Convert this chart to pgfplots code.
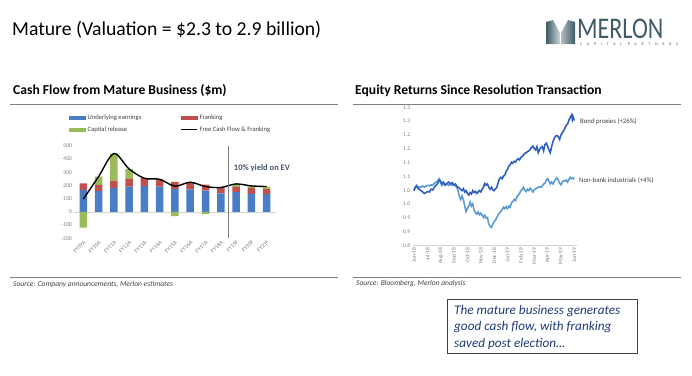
\documentclass[border=0pt]{standalone}
\usepackage{fontspec}
\setmainfont{Carlito}
\usepackage{pgfplots}
\pgfplotsset{compat=1.18}
\definecolor{cblue}{HTML}{4A7EC4}
\definecolor{cred}{HTML}{C0504D}
\definecolor{cgreen}{HTML}{9BBB59}
\definecolor{tickgray}{HTML}{7F7F7F}
\definecolor{txtgray}{HTML}{404040}
\definecolor{bondc}{HTML}{2F5FBF}
\definecolor{nbic}{HTML}{5B9BD5}
\definecolor{slate}{HTML}{44546A}
\definecolor{navy}{HTML}{1F3A7A}
\definecolor{logoc}{HTML}{3E5B66}
\begin{document}
\begin{tikzpicture}[x=1pt,y=1pt]
\path[use as bounding box] (0,0) rectangle (692,-375);
% title
\node[anchor=west, inner sep=0pt, font=\fontsize{19.7}{22}\selectfont] at (12,-30) {Mature (Valuation = \$2.3 to 2.9 billion)};
% logo
\shade[left color=logoc, right color=logoc!25] (546,-44) -- (546,-22) -- (553,-20) -- (560,-33) -- (560,-44) -- cycle;
\shade[left color=logoc!40, right color=logoc] (561,-44) -- (561,-33) -- (568,-20) -- (575,-22) -- (575,-44) -- cycle;
\node[anchor=base west, inner sep=0pt, text=logoc, font=\fontsize{30}{32}\selectfont, xscale=0.8, transform shape] at (577,-38) {MERLON};
\node[anchor=west, inner sep=0pt, text=logoc, font=\fontsize{4}{5}\selectfont\addfontfeatures{LetterSpace=120}] at (580,-44) {CAPITAL PARTNERS};
% headings
\node[anchor=west, inner sep=0pt, font=\bfseries\fontsize{13.6}{15}\selectfont] at (13,-90.5) {Cash Flow from Mature Business (\$m)};
\node[anchor=west, inner sep=0pt, font=\bfseries\fontsize{13.6}{15}\selectfont] at (355,-90.5) {Equity Returns Since Resolution Transaction};
\draw[gray, line width=0.9pt] (10,-104) -- (338,-104);
\draw[gray, line width=0.9pt] (353,-104) -- (681,-104);
\draw[gray, line width=0.9pt] (10,-277.5) -- (338,-277.5);
\draw[gray, line width=0.9pt] (353,-277.5) -- (681,-277.5);
\node[anchor=west, inner sep=0pt, font=\itshape\fontsize{7.5}{8}\selectfont, text=txtgray] at (13,-284) {Source: Company announcements, Merlon estimates};
\node[anchor=west, inner sep=0pt, font=\itshape\fontsize{7.5}{8}\selectfont, text=txtgray] at (356,-284) {Source: Bloomberg, Merlon analysis};
% callout box
\draw[black!75, line width=1pt] (447,-299) rectangle (637,-353);
\node[anchor=west, inner sep=0pt, font=\itshape\fontsize{13.2}{15}\selectfont, text=navy] at (454,-311) {The mature business generates};
\node[anchor=west, inner sep=0pt, font=\itshape\fontsize{13.2}{15}\selectfont, text=navy] at (454,-327.5) {good cash flow, with franking};
\node[anchor=west, inner sep=0pt, font=\itshape\fontsize{13.2}{15}\selectfont, text=navy] at (454,-344) {saved post election\ldots};

% ---------- left chart: stacked bars
\begin{axis}[at={(74.1pt,-238.3pt)}, anchor=south west, scale only axis,
  width=201.7pt, height=92.4pt,
  xmin=-0.6, xmax=12.6, ymin=-200, ymax=500,
  ybar stacked, bar width=7.5pt,
  xtick={0,...,12},
  xticklabels={FY09A,FY10A,FY11A,FY12A,FY13A,FY14A,FY15A,FY16A,FY17A,FY18A,FY19F,FY20F,FY21F},
  ytick={-200,-100,0,100,200,300,400,500},
  /pgf/number format/assume math mode=true,
  tick label style={font=\fontsize{5.8}{6}\selectfont, text=tickgray},
  x tick label style={rotate=45, anchor=north east, inner sep=1pt},
  y tick label style={inner sep=2pt},
  axis line style={draw=none}, major tick length=0pt,
  clip=false]
\draw[gray!35, line width=0.6pt] (axis cs:-0.6,0) -- (axis cs:12.6,0);
\addplot[fill=cblue, draw=none] coordinates {(0,167) (1,157) (2,182) (3,192) (4,195) (5,192) (6,172) (7,170) (8,162) (9,140) (10,150) (11,137) (12,135)};
\addplot[fill=cred, draw=none] coordinates {(0,50) (1,48) (2,55) (3,58) (4,60) (5,55) (6,55) (7,55) (8,45) (9,45) (10,40) (11,45) (12,37)};
\addplot[fill=cgreen, draw=none] coordinates {(0,0) (1,62) (2,205) (3,75) (4,0) (5,0) (6,0) (7,0) (8,0) (9,0) (10,22) (11,15) (12,20)};
\end{axis}
% ---------- left chart: overlay (negative capital release, FCF line, legend)
\begin{axis}[at={(74.1pt,-238.3pt)}, anchor=south west, scale only axis,
  width=201.7pt, height=92.4pt,
  xmin=-0.6, xmax=12.6, ymin=-200, ymax=500,
  hide axis, clip=false,
  legend columns=2,
  legend cell align=left,
  legend style={at={(-0.025,1.36)}, anchor=north west, draw=none, fill=none,
    font=\fontsize{6.6}{7}\selectfont, text=txtgray, inner sep=0pt,
    /tikz/every even column/.append style={column sep=37pt},
    row sep=1.6pt}]
\addlegendimage{legend image code/.code={\fill[cblue] (0pt,-1.8pt) rectangle (16pt,1.8pt);}}
\addlegendentry{Underlying earnings}
\addlegendimage{legend image code/.code={\fill[cred] (0pt,-1.8pt) rectangle (16pt,1.8pt);}}
\addlegendentry{Franking}
\addlegendimage{legend image code/.code={\fill[cgreen] (0pt,-1.8pt) rectangle (16pt,1.8pt);}}
\addlegendentry{Capital release}
\addlegendimage{legend image code/.code={\draw[black, line width=1.2pt] (0pt,0pt) -- (16pt,0pt);}}
\addlegendentry{Free Cash Flow \& Franking}
\addplot[ybar, bar width=7.5pt, fill=cgreen, draw=none, forget plot] coordinates {(0,-120) (6,-32) (8,-15)};
\addplot[black, line width=1.4pt, smooth, tension=0.5, forget plot] coordinates {(0,97) (1,267) (2,442) (3,325) (4,255) (5,247) (6,195) (7,225) (8,192) (9,185) (10,212) (11,197) (12,192)};
\draw[gray, line width=0.8pt] (axis cs:9.5,500) -- (axis cs:9.5,-200);
\node[anchor=west, inner sep=0pt, font=\bfseries\fontsize{8.5}{9}\selectfont, text=slate] at (axis cs:9.85,333) {10\% yield on EV};
\end{axis}

% ---------- right chart
\begin{axis}[at={(413.3pt,-245.7pt)}, anchor=south west, scale only axis,
  width=163.7pt, height=138.4pt,
  xmin=-0.05, xmax=12.2, ymin=0.8, ymax=1.3,
  xtick={0,...,12},
  xticklabels={Jun-18,Jul-18,Aug-18,Sep-18,Oct-18,Nov-18,Dec-18,Jan-19,Feb-19,Mar-19,Apr-19,May-19,Jun-19},
  ytick={0.8,0.85,0.9,0.95,1.0,1.05,1.1,1.15,1.2,1.25,1.3},
  yticklabels={0.8,0.9,0.9,1.0,1.0,1.1,1.1,1.2,1.2,1.3,1.3},
  axis lines*=left,
  y axis line style={draw=none},
  x axis line style={draw=gray!35, line width=0.6pt},
  major tick length=0pt,
  tick label style={font=\fontsize{5.6}{6}\selectfont, text=tickgray},
  x tick label style={rotate=90, anchor=east, inner sep=1.5pt},
  y tick label style={inner sep=3pt},
  clip=false]
\addplot[nbic, line width=1.6pt] coordinates {
(0,0.999) (0.1,1.011) (0.2,1.018) (0.3,1.008) (0.4,1.013) (0.525,1.011) (0.65,1.016) (0.775,1.011) (0.9,1.016) (1.025,1.018)
(1.15,1.016) (1.275,1.020) (1.4,1.018) (1.525,1.025) (1.65,1.030) (1.775,1.033) (1.875,1.042) (1.975,1.035) (2.075,1.018) (2.2,1.025)
(2.325,1.018) (2.45,1.023) (2.6,1.018) (2.725,1.023) (2.85,1.018) (2.975,1.020) (3.1,1.016) (3.2,1.011) (3.3,0.999) (3.4,0.977)
(3.5,0.967) (3.6,0.980) (3.7,0.965) (3.8,0.943) (3.9,0.923) (4.0,0.935) (4.1,0.943) (4.2,0.958) (4.3,0.943) (4.4,0.951)
(4.5,0.929) (4.6,0.919) (4.7,0.914) (4.8,0.922) (4.9,0.912) (5.0,0.917) (5.1,0.910) (5.2,0.902) (5.3,0.910) (5.4,0.899)
(5.5,0.902) (5.6,0.878) (5.7,0.871) (5.8,0.866) (5.9,0.878) (6.0,0.886) (6.1,0.893) (6.2,0.902) (6.3,0.912) (6.4,0.917)
(6.5,0.924) (6.6,0.931) (6.7,0.939) (6.8,0.934) (6.9,0.941) (7.0,0.934) (7.1,0.943) (7.2,0.939) (7.3,0.955) (7.4,0.960)
(7.5,0.967) (7.6,0.963) (7.7,0.977) (7.8,0.982) (7.9,0.989) (8.0,0.999) (8.1,1.004) (8.2,1.011) (8.3,1.001) (8.4,0.996)
(8.5,1.004) (8.6,0.999) (8.7,1.008) (8.8,1.001) (8.9,0.994) (9.0,1.001) (9.1,1.006) (9.2,1.008) (9.3,1.011) (9.4,1.013)
(9.5,1.011) (9.6,1.016) (9.7,1.023) (9.8,1.025) (9.9,1.037) (10.0,1.042) (10.1,1.033) (10.2,1.023) (10.3,1.030) (10.4,1.023)
(10.5,1.033) (10.6,1.040) (10.7,1.045) (10.8,1.037) (10.9,1.025) (11.0,1.020) (11.1,1.030) (11.2,1.035) (11.3,1.033) (11.4,1.037)
(11.5,1.030) (11.6,1.040) (11.7,1.047) (11.8,1.042) (11.9,1.045) (12.0,1.040)};
\addplot[bondc, line width=1.6pt] coordinates {
(0,0.999) (0.1,1.011) (0.2,1.016) (0.3,1.007) (0.4,1.004) (0.525,0.999) (0.65,0.994) (0.775,0.989) (0.9,0.992) (1.025,0.996)
(1.15,0.994) (1.275,1.004) (1.4,1.001) (1.525,1.011) (1.65,1.018) (1.775,1.025) (1.875,1.037) (1.975,1.033) (2.075,1.023) (2.2,1.030)
(2.325,1.019) (2.45,1.025) (2.6,1.030) (2.725,1.023) (2.85,1.028) (2.975,1.020) (3.1,1.023) (3.225,1.013) (3.35,1.010) (3.475,1.004)
(3.6,0.999) (3.7,1.006) (3.8,0.994) (3.9,0.999) (4.0,0.989) (4.1,0.983) (4.2,0.992) (4.3,0.987) (4.4,0.999) (4.5,0.992)
(4.6,0.996) (4.7,0.989) (4.8,0.994) (4.9,0.999) (5.0,0.994) (5.1,1.004) (5.2,1.011) (5.3,1.025) (5.4,1.019) (5.5,1.023)
(5.6,1.011) (5.7,1.004) (5.8,1.011) (5.9,1.001) (6.0,0.999) (6.1,1.006) (6.2,1.011) (6.3,1.028) (6.4,1.042) (6.5,1.047)
(6.6,1.042) (6.7,1.052) (6.8,1.055) (6.9,1.069) (7.0,1.076) (7.1,1.088) (7.2,1.092) (7.3,1.102) (7.4,1.098) (7.5,1.105)
(7.6,1.102) (7.7,1.110) (7.8,1.114) (7.9,1.110) (8.0,1.119) (8.1,1.122) (8.2,1.128) (8.3,1.134) (8.4,1.136) (8.5,1.140)
(8.6,1.143) (8.7,1.148) (8.8,1.155) (8.9,1.160) (9.0,1.151) (9.1,1.146) (9.2,1.158) (9.3,1.136) (9.4,1.148) (9.5,1.155)
(9.6,1.158) (9.7,1.143) (9.8,1.165) (9.9,1.170) (10.0,1.160) (10.1,1.146) (10.2,1.136) (10.3,1.158) (10.4,1.176) (10.5,1.188)
(10.6,1.196) (10.7,1.198) (10.8,1.194) (10.9,1.184) (11.0,1.200) (11.1,1.208) (11.2,1.216) (11.3,1.225) (11.4,1.235) (11.5,1.240)
(11.6,1.254) (11.7,1.264) (11.8,1.273) (11.85,1.256) (11.9,1.266) (12.0,1.252)};
\end{axis}
\node[anchor=west, inner sep=0pt, font=\fontsize{6.8}{7}\selectfont, text=txtgray] at (580,-121.7) {Bond proxies (+26\%)};
\node[anchor=west, inner sep=0pt, font=\fontsize{6.8}{7}\selectfont, text=txtgray] at (579,-180) {Non-bank industrials (+4\%)};
\end{tikzpicture}
\end{document}
